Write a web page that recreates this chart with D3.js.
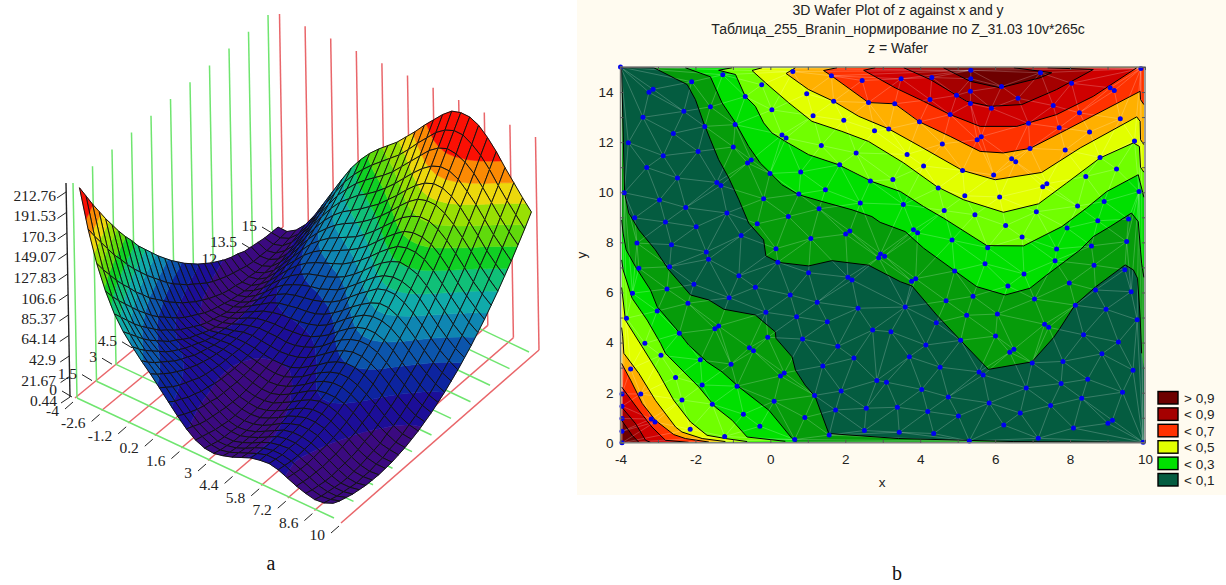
<!DOCTYPE html>
<html>
<head>
    <meta charset="utf-8">
    <title>Branin surface and wafer plot</title>
    <style>
        html, body { margin: 0; padding: 0; background: #fff; }
        svg { display: block; }
    </style>
</head>
<body>
<div id='plot'></div>
<script src="https://cdn.jsdelivr.net/npm/d3@7/dist/d3.min.js"></script>
<script>

    // ---------- panel a: surface values ----------
    let surfaceX = [-4,-3.5,-3,-2.5,-2,-1.5,-1,-0.5,0,0.5,1,1.5,2,2.5,3,3.5,4,4.5,5,5.5,6,6.5,7,7.5,8,8.5,9,9.5,10];
    let surfaceY = [0,0.5,1,1.5,2,2.5,3,3.5,4,4.5,5,5.5,6,6.5,7,7.5,8,8.5,9,9.5,10,10.5,11,11.5,12,12.5,13,13.5,14,14.5,15];
    // one row per surfaceX, one column per surfaceY
    let surfaceZ = [
        [212,198,184,171,158,146,134,123,113,102,93,84,75,67,59,52,45,39,33,28,23,19,15,12,10,7,6,5,4,4,4],
        [174,161,149,137,125,115,104,94,85,76,68,60,52,45,39,33,28,23,18,14,11,8,6,4,2,1,1,1,2,3,4],
        [143,131,120,109,99,90,80,72,63,56,49,42,36,30,25,20,16,12,9,6,4,3,1,1,0,1,2,3,5,7,10],
        [119,108,98,89,80,71,63,55,48,42,36,30,25,21,17,13,10,8,6,4,3,2,2,3,4,5,7,10,13,16,20],
        [100,91,82,73,65,58,51,44,39,33,28,24,20,16,13,11,9,7,7,6,6,7,8,9,11,14,17,20,25,29,34],
        [86,78,70,62,55,49,43,37,33,28,24,21,18,15,13,12,11,11,11,11,12,14,16,19,22,25,29,34,39,45,51],
        [75,67,60,54,48,42,37,33,29,26,23,20,18,17,16,15,15,16,17,18,20,23,26,30,33,38,43,49,55,61,68],
        [65,58,52,47,42,37,33,30,26,24,22,20,19,19,18,19,20,21,23,26,29,32,36,40,45,51,57,63,70,77,85],
        [56,50,45,40,36,32,29,26,24,22,21,20,20,20,21,22,24,26,29,32,36,40,45,50,56,62,69,76,84,92,101],
        [46,41,36,32,29,26,23,21,20,19,19,19,19,20,22,24,26,29,33,37,41,46,52,58,64,71,79,87,95,104,114],
        [36,31,28,24,22,19,18,16,15,15,15,16,17,19,21,24,27,31,35,40,45,51,57,64,71,79,87,95,105,114,125],
        [26,22,19,16,14,13,11,11,11,11,12,13,15,17,20,24,27,32,37,42,48,54,61,68,76,85,93,103,113,123,134],
        [17,14,11,9,8,7,6,6,6,7,9,11,13,16,19,23,28,33,38,44,50,57,65,73,81,90,99,109,120,131,142],
        [10,8,6,4,3,2,2,3,4,5,7,9,12,16,20,24,29,35,40,47,54,61,69,78,86,96,106,116,127,139,150],
        [6,4,2,1,1,0,1,2,3,5,7,10,13,17,22,27,32,38,44,51,58,66,75,84,93,103,113,124,135,147,160],
        [5,3,2,1,1,1,2,3,5,7,10,13,17,21,26,31,37,43,50,57,65,73,82,91,101,111,122,133,145,157,170],
        [7,5,4,4,4,4,5,7,9,12,15,18,22,27,32,37,43,50,57,65,73,81,90,100,110,120,131,143,155,168,181],
        [10,9,8,8,8,9,10,12,14,17,21,24,29,33,39,45,51,58,65,73,81,90,99,109,119,130,141,153,165,178,191],
        [14,13,13,13,13,14,16,18,20,23,27,31,35,40,46,52,58,65,72,80,89,98,107,117,128,139,150,162,175,188,201],
        [18,17,17,17,18,19,20,22,25,28,32,36,40,45,51,57,64,71,78,87,95,104,114,124,134,146,157,169,182,195,209],
        [20,20,19,19,20,21,23,25,28,31,34,39,43,48,54,60,67,74,82,90,98,108,117,127,138,149,161,173,186,199,212],
        [21,20,19,20,20,21,23,25,28,31,34,39,43,48,54,60,67,74,82,90,98,107,117,127,138,149,161,173,185,199,212],
        [19,18,17,17,18,19,21,23,25,28,32,36,40,45,51,57,64,71,78,86,95,104,114,124,134,145,157,169,181,194,208],
        [15,14,13,13,14,15,16,18,20,23,27,31,35,40,46,51,58,65,72,80,89,97,107,117,127,138,150,161,174,187,200],
        [11,10,9,9,9,10,11,13,15,17,21,24,29,33,39,44,50,57,64,72,80,89,98,108,118,129,140,152,164,177,190],
        [8,6,5,4,4,5,6,7,9,12,14,18,22,26,31,37,43,49,56,63,71,80,89,98,108,119,130,141,153,165,178],
        [6,4,3,2,1,1,2,3,5,7,9,13,16,20,25,30,36,42,48,55,63,71,80,89,98,109,119,130,142,154,167],
        [7,5,3,2,1,0,1,1,3,4,7,9,12,16,20,25,30,36,42,49,56,64,72,81,90,100,110,121,132,144,156],
        [11,8,6,4,3,2,2,2,3,4,6,8,11,14,18,22,27,32,38,44,51,58,66,74,83,92,102,112,123,134,146]
    ];
    let zTicks3d = [0.44,21.67,42.9,64.14,85.37,106.6,127.83,149.07,170.3,191.53,212.76];
    let xTicks3d = [-4,-2.6,-1.2,0.2,1.6,3,4.4,5.8,7.2,8.6,10];
    let yTicks3d = [0,1.5,3,4.5,6,7.5,9,10.5,12,13.5,15];
    let bandBreaks3d = [16,32,48,63,78,92,107,122,137,152,167,183];
    let bandColors3d = ['#3b0a80','#1c0e98','#0d249f','#0c55ac','#0f86b2','#10aaaa','#10c078','#10d024','#60da0c','#98e004','#ecd80c','#fb8a04','#fb1004'];

    // ---------- panel b: sample points of the wafer plot ----------
    let samples = [
        [-4,15],[0.60,14.82],[1.63,14.65],[2.45,14.46],[-3.13,14.11],[-3.24,13.99],[-2.10,14.41],[-1.27,14.69],[-0.23,14.29],[0.97,13.93],
        [-0.67,13.82],[1.69,13.63],[2.62,13.58],[-1.60,13.41],[0.04,13.29],[-3.40,12.99],[-2.31,13.23],[1.14,13.05],[1.96,12.87],[-1.75,12.63],
        [-0.94,12.70],[-2.59,12.35],[2.78,12.46],[0.31,12.29],[0.42,12.17],[-3.79,11.98],[1.36,11.87],[-0.99,11.81],[-1.93,11.63],[-2.86,11.46],
        [2.29,11.57],[-0.51,11.29],[-0.61,11.17],[1.85,11.10],[-3.30,10.99],[-0.01,10.75],[0.81,10.81],[-2.48,10.57],[2.67,10.45],[-1.43,10.39],
        [-1.32,10.27],[-3.90,9.98],[1.47,10.10],[0.76,9.93],[-2.96,9.69],[-0.18,9.74],[2.40,9.57],[-2.26,9.39],[1.30,9.34],[-1.16,9.17],
        [0.48,9.03],[-3.62,8.98],[-2.80,8.81],[-0.35,8.74],[-1.98,8.62],[2.12,8.45],[2.01,8.33],[-0.78,8.27],[1.08,8.15],[-3.56,7.97],
        [-2.64,7.91],[0.15,7.75],
        [9.89,14.94],[5.35,14.87],[7.21,14.77],[4.31,14.58],[3.49,14.53],[5.35,14.53],[6.17,14.22],[8.04,14.35],[9.07,14.17],[9.18,14.06],
        [5.34,14.03],[4.97,13.87],[4.26,13.70],[6.61,13.75],[3.32,13.53],[5.34,13.54],[5.90,13.35],[7.55,13.46],[4.80,13.10],[8.25,13.17],
        [9.34,12.93],[3.98,12.81],[6.89,12.75],[7.71,12.58],[3.16,12.53],[8.52,12.41],[5.63,12.22],[5.52,12.10],[4.59,11.93],[9.72,12.05],
        [6.93,11.75],[7.87,11.69],[3.65,11.51],[6.44,11.34],[6.55,11.22],[8.80,11.39],[4.09,11.05],[5.13,10.87],[5.96,10.69],[9.24,10.93],
        [8.42,10.63],[3.27,10.51],[7.38,10.34],[7.27,10.22],[4.48,10.17],[6.12,9.81],[5.19,9.86],[9.84,10.03],[8.20,9.45],[8.91,9.63],
        [3.55,9.51],[4.64,9.27],[7.10,9.22],[5.46,9.10],[9.56,8.93],[8.74,8.86],[6.28,8.67],[7.92,8.57],[3.82,8.50],[3.93,8.38],
        [6.72,8.21],[4.85,8.09],[9.51,8.03],[8.57,7.86],[5.80,7.79],[7.64,7.74],
        [-1.71,7.62],[-1.65,7.33],[2.94,7.54],[3.05,7.45],[2.89,7.39],[0.20,7.21],[-3.51,6.97],[-2.69,7.03],[1.02,6.79],[-0.84,6.67],
        [2.07,6.61],[2.18,6.50],[-2.04,6.33],[-0.40,6.21],[-2.76,6.14],[-3.68,5.97],[0.53,5.90],[-1.10,5.79],[1.25,5.61],[-2.20,5.57],
        [2.34,5.37],[-3.02,5.26],[-0.12,5.21],[0.70,5.03],[-3.84,4.97],[1.52,4.83],[-1.38,4.66],[-1.48,4.55],[2.73,4.50],[-2.43,4.37],
        [-0.07,4.21],[0.86,4.14],[-3.35,3.97],[-0.56,3.79],[-0.45,3.67],[1.80,3.85],[-2.92,3.49],[-1.87,3.31],[2.23,3.38],[-1.05,3.14],
        [1.40,3.07],[-3.73,2.95],[0.37,2.79],[0.27,2.67],[-2.53,2.61],[2.84,2.49],[-1.82,2.31],[-0.89,2.26],[-3.96,1.95],[-3.46,1.95],
        [1.89,2.07],[1.18,1.89],[-2.36,1.71],[0.10,1.66],[-1.55,1.54],[-3.96,1.46],[-0.72,1.14],[1.74,1.31],[2.56,1.38],[-3.18,0.95],
        [-3.08,0.83],[-3.96,0.97],[0.92,1.01],[-0.28,0.66],[-2.14,0.54],[-3.96,0.46],[2.51,0.49],[1.57,0.31],[-1.22,0.25],[0.65,0.13],[-3.96,0],
        [7.60,7.27],[8.64,7.09],[5.73,7.15],[6.77,6.74],[4.92,6.86],[9.46,6.91],[6.34,6.26],[7.98,6.38],[3.88,6.55],[3.77,6.45],
        [8.68,6.10],[9.63,6.03],[5.41,5.85],[7.05,5.74],[4.69,5.67],[8.14,5.49],[3.60,5.42],[8.96,5.33],[6.06,5.14],[5.24,5.09],
        [9.79,4.91],[4.43,4.79],[3.22,4.43],[7.32,4.73],[7.43,4.61],[6.01,4.26],[8.36,4.31],[5.08,4.09],[9.29,4.02],[4.15,3.90],
        [6.50,3.73],[6.39,3.61],[8.85,3.55],[3.71,3.43],[7.81,3.25],[6.99,3.19],[4.53,3.02],[9.68,2.90],[5.57,2.83],[5.68,2.71],
        [3.10,2.42],[8.47,2.54],[7.76,2.37],[4.04,2.13],[6.83,2.19],[9.40,2.02],[4.75,1.83],[8.31,1.78],[5.84,1.59],[3.39,1.42],
        [7.48,1.49],[4.20,1.25],[6.67,1.19],[5.02,1.07],[9.13,0.90],[9.01,0.78],[6.23,0.71],[8.09,0.59],[3.44,0.42],[4.36,0.37],
        [7.15,0.18],[5.31,0.07],[9.95,0.02]
    ];

    // contour lines, in x,y units. "edge" only closes the fill
    let tealLine = [
        [9.97,0.02],[9.0,0.03],[6.5,0.05],[3.42,0.17],[1.56,0.37],[1.2,1.83],[0.93,2.3],[0.67,2.9],[0.58,3.43],[0.15,4.17],[0.13,4.43],
        [-0.4,5.1],[-1.24,5.33],[-1.64,5.7],[-2.13,5.9],[-2.71,6.9],[-3.07,7.7],[-3.51,8.5],[-3.78,9.17],[-3.89,9.97],[-3.97,14.97],
        [-3.11,14.97],[-2.53,14.53],[-2.22,14.3],[-2.0,13.7],[-1.78,12.77],[-1.6,12.1],[-1.38,11.3],[-1.11,10.57],[-0.84,9.7],[-0.58,8.77],
        [-0.18,8.1],[-0.12,7.46],[0.22,7.2],[1.02,7.06],[1.64,7.27],[2.62,7.09],[3.47,6.43],[3.78,6.26],[4.44,5.1],[5.07,4.1],[5.82,2.93],
        [6.98,3.23],[7.56,4.2],[7.73,4.57],[8.13,5.5],[8.67,6.21],[9.47,7.1],[9.69,6.9],[9.8,6.57],[9.87,5.03],[9.91,3.57]
    ];
    let tealEdge = [[9.97,3.0]];

    let upper2 = [[-2.27,14.97],[-1.6,14.61],[-1.29,13.57],[-0.93,12.77],[-0.58,11.83],[-0.27,11.17],[0,10.77],[0.31,10.3],[0.76,9.9],[1.38,9.63],[2.18,9.3],[2.71,9.03],[2.93,8.8],[3.6,8.43],[4.09,7.77],[4.89,6.9],[5.51,6.23],[6.27,5.9],[6.93,6.17],[7.38,6.7],[8.27,7.7],[8.62,8.23],[9.07,8.63],[9.64,9.17],[9.82,8.83],[9.88,7.7],[9.91,7.17],[9.97,6.6]];
    let upper3 = [[-1.02,14.97],[-1.38,14.87],[-0.93,14.7],[-0.67,13.83],[-0.4,13.43],[-0.18,12.77],[0.04,12.37],[0.4,12.03],[1.02,11.5],[1.82,11.1],[2.71,10.43],[3.47,10.03],[4.09,9.43],[4.62,8.97],[5.78,7.87],[6.76,7.86],[7.78,8.63],[8.44,9.37],[8.98,10.03],[9.82,10.7],[9.87,10.4],[9.97,9.8]];
    let upper4 = [[-0.22,14.97],[-0.49,14.86],[-0.13,14.37],[0.49,13.57],[1.11,12.83],[1.91,12.43],[2.62,12.03],[3.56,11.17],[4.44,10.23],[5.16,9.7],[6.22,9.2],[7.16,9.54],[7.91,10.37],[8.8,11.37],[9.69,11.97],[9.85,11.83],[9.88,11],[9.97,10.8]];
    let upper5 = [[0.67,14.97],[0.42,14.74],[1.02,14.1],[1.69,13.63],[2.36,13.03],[3.16,12.53],[4.0,11.83],[5.13,10.87],[6,10.5],[7.24,10.79],[8.27,11.77],[9.78,13.01],[9.87,12.83],[9.88,12.1],[9.97,11.9]];
    let upper6 = [[1.78,14.97],[1.42,14.86],[1.63,14.65],[2.62,13.58],[3.32,13.53],[3.98,12.81],[4.8,12.23],[5.6,11.63],[6.22,11.57],[6.93,11.75],[7.91,12.5],[9.87,14.03],[9.88,13.7],[9.97,13.5]];
    let upper7 = [[2.8,14.97],[2.49,14.87],[3.33,14.17],[4.09,13.63],[4.8,13.1],[5.6,12.63],[6.58,12.63],[7.64,13.1],[8.62,13.83],[9.78,14.97]];
    let upper8 = [[3.56,14.97],[4.27,14.5],[5.24,13.63],[5.87,13.43],[6.71,13.5],[7.64,14.1],[8.62,14.9],[7.4,14.97]];
    let upper9 = [[4.62,14.97],[5.33,14.43],[6.13,14.17],[7.2,14.57],[7.51,14.77],[6.5,14.97]];

    let lower2 = [[-3.97,8.9],[-3.93,8.37],[-3.85,7.7],[-3.6,7.03],[-3.2,6.1],[-3.02,5.43],[-2.53,4.57],[-2.18,3.9],[-1.69,3.23],[-1.29,2.83],[-0.84,2.23],[-0.04,1.3],[0.22,0.83],[0.58,0.17],[0.7,0.03]];
    let lower3 = [[-3.97,7.3],[-3.93,6.9],[-3.69,5.77],[-3.29,4.9],[-2.93,3.97],[-2.8,3.57],[-1.91,2.23],[-1.47,1.43],[-1.02,0.9],[-0.62,0.23],[0.4,0.06]];
    let lower4 = [[-3.97,6.2],[-3.93,5.7],[-3.87,4.9],[-3.42,3.83],[-2.98,2.77],[-2.58,1.7],[-2.13,0.83],[-1.69,0.3],[-1.2,0.17],[-0.62,0.05]];
    let lower5 = [[-3.97,4.6],[-3.94,4.23],[-3.91,3.57],[-3.51,2.77],[-3.07,1.7],[-2.53,0.63],[-2.36,0.43],[-1.82,0.17],[-1.2,0.05]];
    let lower6 = [[-3.97,3.17],[-3.73,2.5],[-3.42,1.57],[-3.07,0.9],[-2.58,0.33],[-2.27,0.17],[-1.64,0.03]];
    let lower7 = [[-3.97,2.23],[-3.51,1.3],[-3.16,0.63],[-2.8,0.1],[-2.18,0.02]];
    let lower8 = [[-3.97,1.43],[-3.6,0.77],[-3.33,0.1],[-3.2,0.02]];
    let lower9 = [[-3.97,0.9],[-3.69,0.3],[-3.51,0.02]];

    let waferColors = ['#045c40','#069c0a','#00e000','#70ff00','#e2ff00','#ffb000','#ff3200','#cf0000','#a50000','#6e0000'];
    let legendLabels = ['> 0,9','< 0,9','< 0,7','< 0,5','< 0,3','< 0,1'];
    let legendColors = ['#6e0000','#a50000','#ff3200','#e2ff00','#00e000','#045c40'];
    let waferTitles = ['3D Wafer Plot of z against x and y','Таблица_255_Branin_нормирование по Z_31.03 10v*265c','z = Wafer'];
    let waferXTicks = [-4,-2,0,2,4,6,8,10];
    let waferYTicks = [0,2,4,6,8,10,12,14];

    let svgWidth = 1226;
    let svgHeight = 585;

    let svg = d3.select('#plot')
        .append('svg')
        .attr('width', svgWidth)
        .attr('height', svgHeight);

    svg.append('rect').attr('width', svgWidth).attr('height', svgHeight).attr('fill', '#fff');

    function translate(x, y) {
        return 'translate(' + x + ' , ' + y + ')';
    }

    // ========== panel a ==========
    let a = svg.append('g');
    let serif = "'Liberation Serif', serif";

    let yNorm = d3.scaleLinear().domain([0, 15]).range([0, 1]);
    let frontEdge = d3.scaleLinear().domain([-4, 10]).range([[76, 394], [333, 514]]);
    let backEdge = d3.scaleLinear().domain([-4, 10]).range([[278, 231], [529, 354]]);
    let zLift = d3.scaleLinear().domain([0, 212.76]).range([[0, 0], [3.5, -207]]);

    function project(x, y, z) {
        let f = frontEdge(x), b = backEdge(x), v = yNorm(y), l = zLift(z);
        return { x: f[0] + (b[0] - f[0]) * v + l[0], y: f[1] + (b[1] - f[1]) * v + l[1], z: z };
    }

    // floor and wall grid
    let redFloorFront = d3.scaleLinear().domain([-4, 10]).range([[75, 398], [341, 523]]);
    let redFloorBack = d3.scaleLinear().domain([-4, 10]).range([[283, 227], [539, 350]]);
    let greenFloorLeft = d3.scaleLinear().domain([0, 15]).range([[77, 398], [272, 230]]);
    let greenFloorRight = d3.scaleLinear().domain([0, 15]).range([[334, 518], [529, 352]]);
    let red = '#e9666a', green = '#6fe56f';

    function seg(g, p, q, color, w) {
        g.append('line').attr('x1', p[0]).attr('y1', p[1]).attr('x2', q[0]).attr('y2', q[1])
            .attr('stroke', color).attr('stroke-width', w);
    }
    xTicks3d.forEach(function(t) {
        seg(a, redFloorFront(t), redFloorBack(t), red, 1.5);
        let b = redFloorBack(t);
        seg(a, b, [b[0] - 3.5, b[1] - 213], red, 1.5);
    });
    yTicks3d.forEach(function(t) {
        seg(a, greenFloorLeft(t), greenFloorRight(t), green, 1.5);
        let b = greenFloorLeft(t);
        seg(a, b, [b[0] - 4, b[1] - 215], green, 1.5);
    });

    // axes
    let ink = '#222';
    let zAxisY = d3.scaleLinear().domain([0.44, 212.76]).range([397, 192]);
    let zAxisX = d3.scaleLinear().domain([0.44, 212.76]).range([70, 66]);
    seg(a, [zAxisX(0.44), 397], [66, 183], ink, 1.4);
    zTicks3d.forEach(function(t) {
        let px = zAxisX(t), py = zAxisY(t);
        seg(a, [px, py], [px - 9, py + 6], ink, 1);
        a.append('text').attr('x', 56 + (t < 1 ? 1 : 0)).attr('y', py + 9)
            .attr('text-anchor', 'end').attr('font-family', serif).attr('font-size', 15.5).attr('fill', '#222').text(t);
    });

    let xAxisPt = d3.scaleLinear().domain([-4, 10]).range([[73, 402], [339, 526]]);
    seg(a, xAxisPt(-4), xAxisPt(10), ink, 1.5);
    xTicks3d.forEach(function(t) {
        let p = xAxisPt(t);
        seg(a, p, [p[0] - 8, p[1] + 7], ink, 1);
        a.append('text').attr('x', p[0] - 14).attr('y', p[1] + 14)
            .attr('text-anchor', 'end').attr('font-family', serif).attr('font-size', 15.5).attr('fill', '#222').text(t);
    });

    let yAxisPt = d3.scaleLinear().domain([0, 15]).range([[72, 397], [272, 233]]);
    seg(a, yAxisPt(0), yAxisPt(15), ink, 1.5);
    yTicks3d.forEach(function(t) {
        let p = yAxisPt(t);
        seg(a, p, [p[0] - 10, p[1] - 6], ink, 1);
        a.append('text').attr('x', p[0] - 15).attr('y', p[1] - 2)
            .attr('text-anchor', 'end').attr('font-family', serif).attr('font-size', 15.5).attr('fill', '#222').text(t);
    });

    // surface, far cells first; each cell is cut along the z bands
    function clipZ(poly, level, keepAbove) {
        let out = [];
        poly.forEach(function(p, i) {
            let q = poly[(i + 1) % poly.length];
            let pIn = keepAbove ? p.z >= level : p.z <= level;
            let qIn = keepAbove ? q.z >= level : q.z <= level;
            if (pIn) out.push(p);
            if (pIn !== qIn) {
                let k = (level - p.z) / (q.z - p.z);
                out.push({ x: p.x + (q.x - p.x) * k, y: p.y + (q.y - p.y) * k, z: level });
            }
        });
        return out;
    }

    let polyLine = d3.line().x(d => d.x).y(d => d.y).curve(d3.curveLinearClosed);
    let pieces = [];
    for (let j = surfaceY.length - 2; j >= 0; j--) {
        for (let i = 0; i < surfaceX.length - 1; i++) {
            let cell = [[i, j], [i + 1, j], [i + 1, j + 1], [i, j + 1]]
                .map(c => project(surfaceX[c[0]], surfaceY[c[1]], surfaceZ[c[0]][c[1]]));
            bandColors3d.forEach(function(color, k) {
                let lo = k === 0 ? -1 : bandBreaks3d[k - 1];
                let hi = k === bandBreaks3d.length ? 999 : bandBreaks3d[k];
                let part = clipZ(clipZ(cell, lo, true), hi, false);
                if (part.length > 2) pieces.push({ d: polyLine(part), fill: color, stroke: color, w: 0.5 });
            });
            pieces.push({ d: polyLine(cell), fill: 'none', stroke: '#121212', w: 1 });
        }
    }
    a.append('g').selectAll('path').data(pieces).join('path')
        .attr('d', d => d.d).attr('fill', d => d.fill).attr('stroke', d => d.stroke)
        .attr('stroke-width', d => d.w).attr('stroke-linejoin', 'round');

    a.append('text').attr('x', 271).attr('y', 570).attr('text-anchor', 'middle')
        .attr('font-family', serif).attr('font-size', 20).attr('fill', '#111').text('a');

    // ========== panel b ==========
    let sans = "'Liberation Sans', Arial, sans-serif";
    let b = svg.append('g');
    b.append('rect').attr('x', 577).attr('y', 0).attr('width', 649).attr('height', 495).attr('fill', '#fffbf0');

    let x = d3.scaleLinear().domain([-4, 10]).range([620.5, 1145]);
    let y = d3.scaleLinear().domain([0, 15]).range([442.8, 67]);

    b.selectAll('.title').data(waferTitles).enter().append('text')
        .attr('x', 898).attr('y', (d, i) => 15 + i * 19)
        .attr('text-anchor', 'middle').attr('font-family', sans).attr('font-size', 14).attr('fill', '#222')
        .text(d => d);

    b.append('rect').attr('x', x(-4)).attr('y', y(15)).attr('width', x(10) - x(-4)).attr('height', y(0) - y(15)).attr('fill', '#fff');
    // base of the filled area, second band
    b.append('rect').attr('x', x(-3.97)).attr('y', y(14.97)).attr('width', x(9.97) - x(-3.97)).attr('height', y(0.01) - y(14.97)).attr('fill', waferColors[1]);

    let contourPath = d3.line().x(d => x(d[0])).y(d => y(d[1]));
    let corner = { tl: [-3.97, 14.97], tr: [9.97, 14.97], bl: [-3.97, 0.01] };

    let bands = [
        { c: 0, line: tealLine, edge: tealEdge },
        { c: 2, line: upper2, edge: [corner.tr] },
        { c: 2, line: lower2, edge: [corner.bl] },
        { c: 3, line: upper3, edge: [corner.tr] },
        { c: 3, line: lower3, edge: [corner.bl] },
        { c: 4, line: upper4, edge: [corner.tr] },
        { c: 4, line: lower4, edge: [corner.bl] },
        { c: 5, line: upper5, edge: [corner.tr] },
        { c: 5, line: lower5, edge: [corner.bl] },
        { c: 6, line: upper6, edge: [corner.tr] },
        { c: 6, line: lower6, edge: [corner.bl] },
        { c: 7, line: upper7, edge: [] },
        { c: 7, line: lower7, edge: [corner.bl] },
        { c: 8, line: upper8, edge: [] },
        { c: 8, line: lower8, edge: [corner.bl] },
        { c: 9, line: upper9, edge: [] },
        { c: 9, line: lower9, edge: [corner.bl] }
    ];

    b.append('g').selectAll('path').data(bands).enter().append('path')
        .attr('d', d => contourPath(d.line.concat(d.edge)) + 'Z')
        .attr('fill', d => waferColors[d.c]);

    // triangulation of the samples
    let delaunay = d3.Delaunay.from(samples, d => x(d[0]), d => y(d[1]));
    b.append('path').attr('d', delaunay.render())
        .attr('fill', 'none').attr('stroke', '#fff').attr('stroke-opacity', 0.3).attr('stroke-width', 0.7);

    b.append('g').selectAll('path').data(bands).enter().append('path')
        .attr('d', d => contourPath(d.line))
        .attr('fill', 'none').attr('stroke', '#000').attr('stroke-width', 1);

    b.append('g').selectAll('circle').data(samples).enter().append('circle')
        .attr('r', 2.5)
        .attr('cx', d => x(d[0]))
        .attr('cy', d => y(d[1]))
        .style('fill', '#0000f0');

    // frame and axes
    b.append('rect').attr('x', x(-4)).attr('y', y(15)).attr('width', x(10) - x(-4)).attr('height', y(0) - y(15))
        .attr('fill', 'none').attr('stroke', '#777').attr('stroke-width', 1.4);

    let minorX = d3.range(-4, 11);
    let minorY = d3.range(0, 16);
    function frameAxis(axis, pos) {
        let g = b.append('g').attr('transform', pos).call(axis.tickFormat('').tickSizeOuter(0));
        g.select('.domain').remove();
        g.selectAll('line').attr('stroke', '#555');
    }
    frameAxis(d3.axisTop(x).tickValues(minorX).tickSizeInner(-3), translate(0, y(15)));
    frameAxis(d3.axisBottom(x).tickValues(minorX).tickSizeInner(-3), translate(0, y(0)));
    frameAxis(d3.axisLeft(y).tickValues(minorY).tickSizeInner(-3), translate(x(-4), 0));
    frameAxis(d3.axisRight(y).tickValues(minorY).tickSizeInner(-3), translate(x(10), 0));

    let xAxis = b.append('g').attr('transform', translate(0, y(0)))
        .call(d3.axisBottom(x).tickValues(waferXTicks).tickFormat(d => String(d)).tickSize(0).tickPadding(12));
    let yAxis = b.append('g').attr('transform', translate(x(-4), 0))
        .call(d3.axisLeft(y).tickValues(waferYTicks).tickFormat(d => String(d)).tickSize(0).tickPadding(7));
    [xAxis, yAxis].forEach(function(g) {
        g.select('.domain').remove();
        g.selectAll('text').attr('font-family', sans).attr('font-size', 13.5).attr('fill', '#222');
    });

    b.append('text').attr('x', 882).attr('y', 487).attr('text-anchor', 'middle')
        .attr('font-family', sans).attr('font-size', 13.5).attr('fill', '#222').text('x');
    b.append('text').attr('transform', translate(586, 255) + ' rotate(-90)').attr('text-anchor', 'middle')
        .attr('font-family', sans).attr('font-size', 13.5).attr('fill', '#222').text('y');

    // legend
    let legend = b.append('g').selectAll('g').data(legendLabels).enter().append('g')
        .attr('transform', (d, i) => translate(1158, 391.5 + i * 16.4));
    legend.append('rect').attr('width', 20).attr('height', 12.5)
        .attr('fill', (d, i) => legendColors[i]).attr('stroke', '#000').attr('stroke-width', 1.4);
    legend.append('text').attr('x', 26).attr('y', 11.5)
        .attr('font-family', sans).attr('font-size', 13.5).attr('fill', '#222').text(d => d);

    b.append('text').attr('x', 897).attr('y', 580).attr('text-anchor', 'middle')
        .attr('font-family', serif).attr('font-size', 20).attr('fill', '#111').text('b');

</script>
</body>
</html>
